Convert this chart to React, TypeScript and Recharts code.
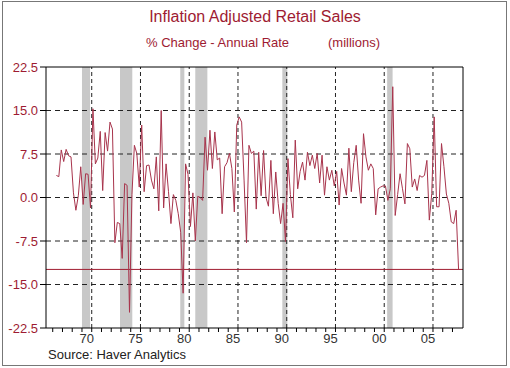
import React from 'react';
import {
  LineChart,
  Line,
  XAxis,
  YAxis,
  ReferenceLine,
  ReferenceArea,
} from 'recharts';

// quarterly, first point 1967 Q2 (plotted mid-quarter)
const START_YEAR = 1967.375;

const retailSales = [
  3.8, 3.6, 8.2, 6.2, 8.3, 7.2, 7.0, 0.8, -2.2, 0.3,
  5.3, -1.2, 4.1, 4.0, -1.8, 15.3, 5.8, 6.8, 11.4, 1.2,
  11.2, 8.0, 13.0, 11.8, -7.8, -4.3, -4.5, -10.5, 2.4, 2.1,
  -19.8, 0.5, 9.0, 7.6, 1.8, 12.5, 1.0, 5.5, 5.6, 3.0,
  1.5, 7.0, -2.3, 15.0, -1.8, 5.8, 1.0, -4.5, 0.5, -0.5,
  -2.8, -6.0, -16.5, 5.8, 4.0, -5.0, 0.8, -7.5, 0.2, 0.0,
  -0.5, 10.4, 4.7, 11.6, 5.0, 11.3, 6.5, 6.8, -2.8, 5.3,
  6.0, 7.6, 5.0, -2.5, 12.5, 13.9, 13.0, 3.0, -7.8, 9.0,
  7.6, 8.0, -2.0, 7.8, 0.3, 8.1, 0.0, -1.5, 6.4, -2.8,
  4.4, -1.0, -4.5, -1.0, -7.6, 6.7, 0.5, -3.5, 9.9, 1.5,
  4.5, 6.1, 3.0, 7.8, 5.5, 7.3, 5.0, 7.6, 2.5, 7.3,
  0.4, 5.3, 3.0, 4.7, 2.0, 4.5, -1.3, 5.0, 2.5, 0.4,
  8.5, 1.0, 6.0, 9.0, 3.0, -1.0, 11.0, 7.0, 4.7, 5.8,
  5.0, -3.0, 1.5, 1.8, 2.0, 2.0, -0.5, 1.5, 19.1, -3.1,
  0.5, 4.1, 1.5, -1.1, 9.3, 8.4, 1.8, 3.2, 1.2, 3.8,
  3.5, 3.8, 6.4, -3.9, 0.7, 13.9, -1.6, -1.6, 9.3, 5.3,
  0.6, -1.0, -4.2, -4.5, -2.2, -12.4,
];

const latestValue = -12.4;

// recessions, decimal years
const recessions: [number, number][] = [
  [1970.0, 1970.83],
  [1973.9, 1975.16],
  [1980.08, 1980.5],
  [1981.62, 1982.86],
  [1990.55, 1991.06],
  [2001.3, 2001.86],
];

const yTicks = [-22.5, -15, -7.5, 0, 7.5, 15, 22.5];
const yGrid = [-15, -7.5, 0, 7.5, 15];
const xGrid = [1971, 1976, 1981, 1986, 1991, 1996, 2001, 2006];
const xTicks = [
  1967, 1968, 1969, 1970, 1971, 1972, 1973, 1974, 1975, 1976, 1977, 1978,
  1979, 1980, 1981, 1982, 1983, 1984, 1985, 1986, 1987, 1988, 1989, 1990,
  1991, 1992, 1993, 1994, 1995, 1996, 1997, 1998, 1999, 2000, 2001, 2002,
  2003, 2004, 2005, 2006, 2007, 2008,
];

const data = retailSales.map((v, i) => ({ t: START_YEAR + i * 0.25, v }));

const RED = '#9e1b32';
const FONT = '"Liberation Sans", Arial, sans-serif';

const XTick = (props: any) => {
  const { x, y, payload } = props;
  const yr = payload.value;
  if (!xGrid.includes(yr)) return null;
  const label = String((yr - 1) % 100).padStart(2, '0');
  return (
    <text x={x - 4.9} y={y} dy="0.71em" textAnchor="middle" fontSize={13} fill="#333" fontFamily={FONT}>
      {label}
    </text>
  );
};

const LeftTick = (props: any) => {
  const { y, payload } = props;
  return (
    <text x={38} y={y} dy="0.36em" textAnchor="end" fontSize={13} fill={RED} fontFamily={FONT}>
      {payload.value.toFixed(1)}
    </text>
  );
};

const RightTick = (props: any) => {
  const { y, payload } = props;
  return (
    <text x={502} y={y} dy="0.36em" textAnchor="end" fontSize={13} fill={RED} fontFamily={FONT}>
      {payload.value.toFixed(1)}
    </text>
  );
};

export default function App() {
  return (
    <div style={{ position: 'relative', width: 510, height: 368, background: '#fff', fontFamily: FONT }}>
      <style>{'body{margin:0}'}</style>
      <div
        style={{
          position: 'absolute',
          left: 2,
          top: 1,
          width: 505,
          height: 365,
          boxSizing: 'border-box',
          border: '1px solid #777',
        }}
      />
      <div style={{ position: 'absolute', top: 8, width: 510, textAlign: 'center', fontSize: 16, color: RED }}>
        Inflation Adjusted Retail Sales
      </div>
      <div style={{ position: 'absolute', top: 35, left: 146, fontSize: 13, color: RED, whiteSpace: 'pre' }}>
        % Change - Annual Rate
      </div>
      <div style={{ position: 'absolute', top: 35, left: 328, fontSize: 13, color: RED }}>(millions)</div>
      <div style={{ position: 'absolute', top: 347, left: 48, fontSize: 13, color: '#222' }}>
        Source: Haver Analytics
      </div>
      <div style={{ position: 'absolute', left: 0, top: 0 }}>
        <LineChart width={510} height={368} data={data} margin={{ top: 67, right: 0, bottom: 0, left: 0 }}>
          <XAxis
            dataKey="t"
            type="number"
            domain={[1966.31, 2009.08]}
            ticks={xTicks}
            interval={0}
            tick={<XTick />}
            tickSize={4}
            tickMargin={2}
            height={40}
            axisLine={{ stroke: '#000' }}
            tickLine={{ stroke: '#000' }}
            allowDataOverflow
          />
          <YAxis
            yAxisId="left"
            domain={[-22.5, 22.5]}
            ticks={yTicks}
            interval={0}
            width={46}
            tick={<LeftTick />}
            tickSize={6}
            axisLine={{ stroke: '#000' }}
            tickLine={{ stroke: '#000' }}
          />
          <YAxis
            yAxisId="right"
            orientation="right"
            domain={[-22.5, 22.5]}
            ticks={yTicks}
            interval={0}
            width={47}
            tick={<RightTick />}
            tickSize={6}
            axisLine={{ stroke: '#000' }}
            tickLine={{ stroke: '#000' }}
          />
          {recessions.map(([a, b]) => (
            <ReferenceArea key={a} yAxisId="left" x1={a} x2={b} fill="#c8c8c8" fillOpacity={1} stroke="none" />
          ))}
          {yGrid.map((g) => (
            <ReferenceLine key={g} yAxisId="left" y={g} stroke="#222" strokeDasharray="5 4" />
          ))}
          {xGrid.map((g) => (
            <ReferenceLine key={g} yAxisId="left" x={g} stroke="#222" strokeDasharray="4 3" />
          ))}
          <ReferenceLine yAxisId="left" y={22.5} stroke="#000" />
          <ReferenceLine yAxisId="left" y={latestValue} stroke="#a01c30" strokeOpacity={1} />
          <Line
            yAxisId="left"
            type="linear"
            dataKey="v"
            stroke="#a8344c"
            strokeWidth={1}
            dot={false}
            isAnimationActive={false}
          />
        </LineChart>
      </div>
    </div>
  );
}
